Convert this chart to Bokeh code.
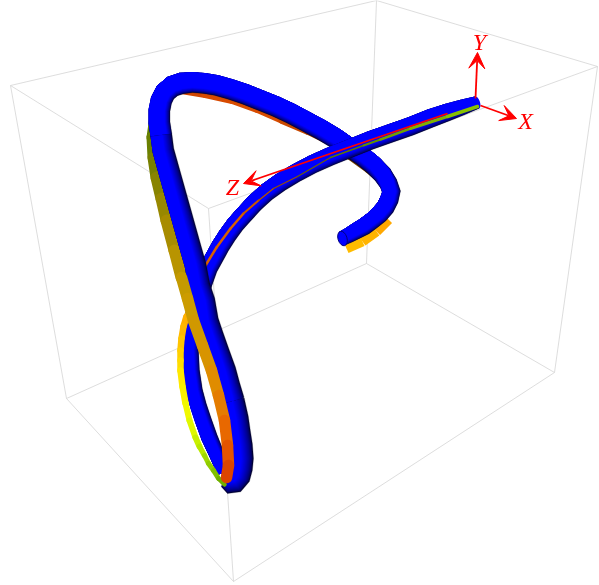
import numpy as np
from bokeh.plotting import figure
from bokeh.models import Arrow, VeeHead, Range1d
from bokeh.core.properties import value
from bokeh.embed import file_html
from bokeh.resources import INLINE

# box corners
box_edges = [
    [(10,85),(376,0)],[(376,0),(597,66)],[(597,66),(208,208)],[(208,208),(10,85)],
    [(10,85),(66,398)],[(376,0),(366,263)],[(597,66),(554,372)],[(208,208),(233,581)],
    [(66,398),(366,263)],[(366,263),(554,372)],[(554,372),(233,581)],[(233,581),(66,398)],
]

# tube centre lines: x, y, width
tube_arc = [(161,135,21),(159,122,21),(159,110,21),(161,100,21),(165,92,21),(172,86,21),(181,83,21),(192,82,20),(204,83,20),
    (216,85,20),(230,89,20),(245,94,20),(260,100,20),(275,106,20),(290,113,20),(305,121,20),(320,129,20),(335,138,20),
    (350,148,19),(362,156,19),(373,165,19),(382,174,19),(388,183,18),(391,191,18),(389,199,18),(385,207,18),
    (379,214,18),(372,220,17),(364,226,17),(355,231,16),(348,235,15),(342,238,14)]
tube_first = [(477,102,12),(462,107,15),(447,112,17),(430,118,18),(410,126,18),(390,133,18),(370,140,18),(350,148,18),
    (330,156,18),(312,164,18),(295,173,18),(280,182,18),(266,192,18),(254,203,18),(243,215,18),(235,224,18),(227,235,18),
    (220,246,18),(214,257,18),(208,268,18),(203,282,18),(198,298,18),(194,314,17),(191,332,17),(190,350,16),(191,370,16),
    (194,390,16),(198,405,16),(203,420,16),(209,437,16),(216,453,15),(220,463,14),(223,472,12)]
tube_main = [(224,480,14),(228,482,22),(234,481,24),(238,476,24),(240,468,24),(241,458,24),(240,445,24),(238,432,24),(236,418,24),
    (232,400,24),(228,385,23),(224,370,23),(218,352,22),(212,335,22),(207,320,22),(204,300,21),(199,285,21),(195,264,21),
    (191,250,21),(184,225,21),(177,200,21),(170,175,21),(163,150,21),(161,135,21)]
main_split = 10

# ribbons: x, y, colour
rib_arc = [(160,90,"#b83c00"),(181,89,"#d04600"),(205,93,"#d84a00"),(232,99,"#d84c00"),(257,108,"#d84c00"),(282,119,"#c84800"),
    (308,130,"#b04400"),(333,142,"#904000"),(350,155,"#743c00"),(368,168,"#603800"),(383,181,"#503400")]
rib_end = [(388,219,"#ffa800"),(376,231,"#ffb400"),(362,241,"#ffbc00"),(346,248,"#ffc000")]
rib_left = [(155,116,"#608000"),(152,137,"#6a8000"),(153,157,"#788000"),(156,177,"#888400"),(161,198,"#988800"),(166,220,"#a88c00"),
    (174,250,"#b89400"),(181,277,"#c49a00")]
rib_main = [(181,277,"#c49a00"),(187,298,"#cc9c00"),(193,320,"#d09800"),(202,345,"#d89400"),(211,370,"#e08c00"),(218,395,"#e47c00"),
    (224,420,"#e86800"),(227,445,"#e45400"),(228,465,"#dc4400"),(226,477,"#c83800")]
rib_loop = [(190,310,"#ffa800",6),(186,316,"#ffb000",6.5),(183,326,"#ffb800",6.5),(181,338,"#ffc400",6.5),(180,350,"#ffd000",6.5),(180,360,"#ffdc00",6.5),
    (180,370,"#ffe800",6.5),(182,386,"#f8f000",6.5),(185,403,"#f0f800",6),(189,420,"#e0f800",6),(195,437,"#c8f000",6),(199,446,"#b8e800",5.5),
    (204,455,"#a0d800",5),(208,463,"#90cc00",5),(213,470,"#80c000",5),(218,478,"#70b000",4.5),(224,484,"#60a000",4)]
# thin band along the first stretch: x, y, colour, width
rib_thin = [(205,265,"#d86000",2.5),(216,247,"#d86000",2.5),(230,228,"#d86000",2.5),(243,213,"#c85800",2),(258,200,"#b05000",1.5),(273,188,"#985000",1.2),
    (297,176,"#706000",1.2),(330,157,"#607800",1.5),(363,145,"#609000",2),(380,139,"#70a000",2.5),(410,128,"#80b000",3),(447,116,"#88c000",3.5),(477,106,"#90c800",4)]

RED = "#ff0000"
axis_z = (447,113,243,183); axis_y = (475,98,477,52); axis_x = (480,105,516,118)
labels = [("X",525,120),("Y",479,41),("Z",232,186)]
caps = [(342,238,9,15,0.3,"#000080"),(477,102,5,12,0.3,"#0000ff")]

p = figure(width=599, height=585, output_backend="svg", toolbar_location=None,
           x_range=Range1d(0,599), y_range=Range1d(585,0), min_border=0)
p.axis.visible = False
p.grid.visible = False
p.outline_line_color = None
p.styles = {"position":"fixed","left":"0px","top":"0px"}

p.multi_line([[e[0][0],e[1][0]] for e in box_edges],[[e[0][1],e[1][1]] for e in box_edges],
             line_color="#d4d4d4", line_width=0.8)

def ribbon(pts, width, cap="round"):
    xs=[[a[0],b[0]] for a,b in zip(pts,pts[1:])]
    ys=[[a[1],b[1]] for a,b in zip(pts,pts[1:])]
    cs=[a[2] for a in pts[:-1]]
    w=[a[3] for a in pts[:-1]] if len(pts[0])>3 else width
    p.multi_line(xs,ys,line_color=cs,line_width=w,line_cap=cap)

LIGHT=np.array([-0.55,-0.83])
DARK=np.array([0,0,45.]); BLUE=np.array([0,0,255.])
def tube(pts, fmin=0.75):
    P=np.array(pts,float)
    n_layers=12
    C=P[:,:2]; W=P[:,2:3]
    d=np.gradient(C,axis=0)
    n=np.c_[-d[:,1],d[:,0]]/np.linalg.norm(d,axis=1,keepdims=True)
    s=np.clip((n@LIGHT)*4,-1,1)[:,None]
    for i in range(n_layers):
        t=i/(n_layers-1)
        f=1-(1-fmin)*t
        c=DARK+(BLUE-DARK)*t**0.6
        col="#%02x%02x%02x"%tuple(int(v) for v in c)
        o=C+n*s*(1-f)/2*W
        a=o+n*f*W/2; b=o-n*f*W/2
        ring=np.vstack([a,b[::-1]])
        p.patch(ring[:,0],ring[:,1],fill_color=col,line_color=col,line_width=0.3)

ribbon(rib_arc,9)
ribbon(rib_end,10,cap="butt")
ribbon(rib_left,12)
tube(tube_arc)
c=caps[0]
p.ellipse([c[0]],[c[1]],width=c[2],height=c[3],angle=c[4],fill_color="#0000ff",line_color=c[5],line_width=1)
tube(tube_main[:main_split],fmin=0.5)
tube(tube_first,fmin=0.7)
c=caps[1]
p.ellipse([c[0]],[c[1]],width=c[2],height=c[3],angle=c[4],fill_color="#0000ff",line_color=c[5],line_width=0)
ribbon(rib_thin,2)
tube(tube_main[main_split-1:],fmin=0.55)
ribbon(rib_loop,6)
ribbon(rib_main,11.5)

for (x0,y0,x1,y1) in (axis_z,axis_y,axis_x):
    p.add_layout(Arrow(end=VeeHead(size=16,fill_color=RED,line_color=RED,line_width=1),x_start=x0,y_start=y0,x_end=x1,y_end=y1,
                       line_color=RED,line_width=1.8))
p.text([l[1] for l in labels],[l[2] for l in labels],text=[l[0] for l in labels],text_color=RED,
       text_font=value("Liberation Serif"),text_font_style="italic",text_font_size="24px",
       text_align="center",text_baseline="middle")

open("out.html","w").write(file_html(p,INLINE))
